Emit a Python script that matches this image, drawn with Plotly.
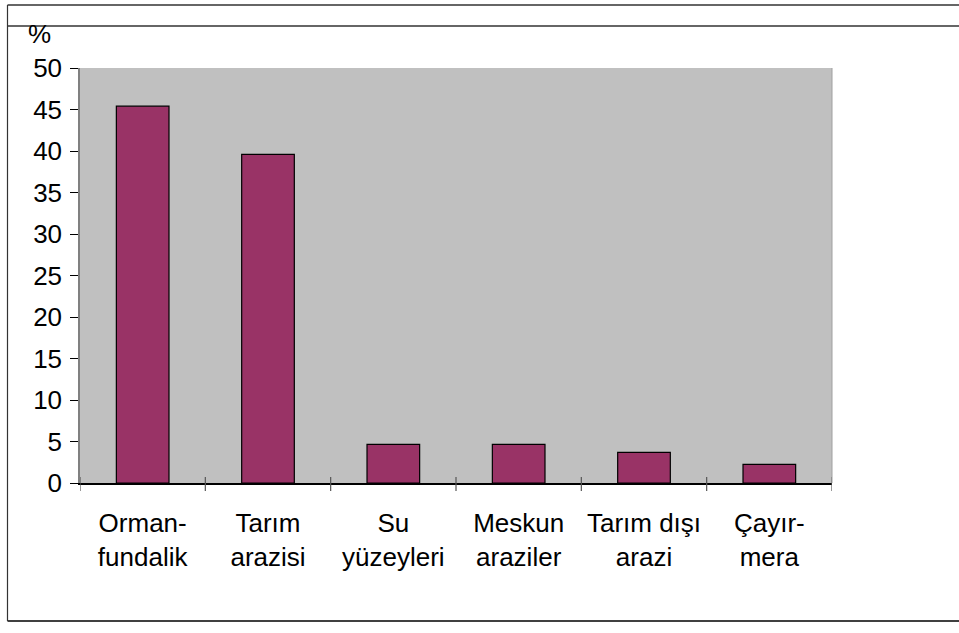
import plotly.graph_objects as go

categories = ["Orman-<br>fundalik", "Tarım<br>arazisi", "Su<br>yüzeyleri", "Meskun<br>araziler", "Tarım dışı<br>arazi", "Çayır-<br>mera"]
values = [45.4, 39.6, 4.65, 4.65, 3.7, 2.25]
y_ticks = [0, 5, 10, 15, 20, 25, 30, 35, 40, 45, 50]

W, H = 959, 633
L, R, T, B = 80, 127, 68, 150
pw, ph = W - L - R, H - T - B

def px(x):
    return (x - L) / pw

def py(y):
    return 1 - (y - T) / ph

fig = go.Figure()
fig.add_trace(go.Bar(
    x=categories, y=values,
    marker=dict(color="#993366", line=dict(color="#000000", width=1.2)),
    width=0.42,
))

shapes = []
shapes.append(dict(type="line", xref="paper", yref="paper", x0=px(7.5), x1=px(960), y0=py(5), y1=py(5), line=dict(color="#333333", width=1.5)))
shapes.append(dict(type="line", xref="paper", yref="paper", x0=px(7.5), x1=px(960), y0=py(26), y1=py(26), line=dict(color="#333333", width=1.5)))
shapes.append(dict(type="line", xref="paper", yref="paper", x0=px(7.5), x1=px(960), y0=py(621), y1=py(621), line=dict(color="#000000", width=1.5)))
shapes.append(dict(type="line", xref="paper", yref="paper", x0=px(7.5), x1=px(7.5), y0=py(5), y1=py(621), line=dict(color="#333333", width=1.2)))
for i in range(len(categories) + 1):
    shapes.append(dict(type="line", xref="x", yref="paper", x0=i - 0.5, x1=i - 0.5,
                       y0=py(477), y1=py(491), line=dict(color="#555555", width=1.2)))
shapes.append(dict(type="line", xref="paper", yref="paper", x0=1, x1=1, y0=0, y1=1, line=dict(color="#a0a0a0", width=1)))

fig.update_layout(
    width=W, height=H,
    margin=dict(l=L, r=R, t=T, b=B),
    paper_bgcolor="#ffffff",
    plot_bgcolor="#c0c0c0",
    font=dict(family="Liberation Sans, Arial, sans-serif", size=26, color="#000000"),
    showlegend=False,
    shapes=shapes,
    annotations=[dict(text="%", xref="paper", yref="paper", x=px(39), y=py(34), showarrow=False,
                      xanchor="center", yanchor="middle", font=dict(size=26))],
    bargap=0.58,
)
fig.update_xaxes(
    range=[-0.5, len(categories) - 0.5],
    showline=True, linecolor="#000000", linewidth=1.5,
    ticks="", showgrid=False, zeroline=False,
    ticklabelstandoff=16,
    tickfont=dict(size=26),
)
fig.update_yaxes(
    range=[0, 50], tickvals=y_ticks,
    showline=True, linecolor="#808080", linewidth=1.5,
    ticks="outside", ticklen=8, tickcolor="#000000", tickwidth=1.2,
    showgrid=False, zeroline=False,
    ticklabelstandoff=3,
    tickfont=dict(size=26),
)
fig.write_html("out.html", config={"displayModeBar": False},
               post_script="document.body.style.margin='0px';")
